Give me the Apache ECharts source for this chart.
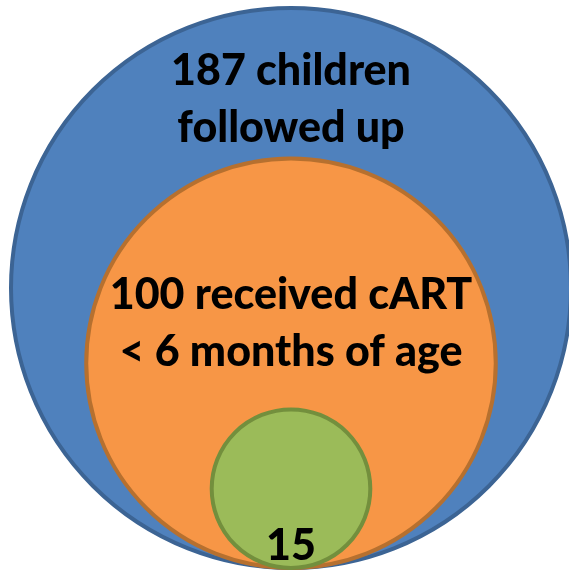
<!DOCTYPE html>
<html>
<head>
<meta charset="utf-8">
<script src="https://cdn.jsdelivr.net/npm/echarts@6/dist/echarts.min.js"></script>
<style>
  html, body { margin: 0; padding: 0; background: #fff; }
  #main { width: 569px; height: 570px; }
</style>
</head>
<body>
<div id="main"></div>
<script>
// nested groups, outer to inner
let groups = ['followed', 'cART', 'subset'];
let counts = [187, 100, 15];
let labels = ['187 children\nfollowed up', '100 received cART\n< 6 months of age', '15'];
let fills = ['#4f81bd', '#f79646', '#9bbb59'];
let strokes = ['#3c6494', '#b6702f', '#738f3d'];

// circles are area proportional and share a bottom point
let maxR = 280;
let baseX = 291, baseY = 568;
let offsets = [[0, -188], [0, -40], [0, 57]];

function radius(v) {
    return maxR * Math.sqrt(v / counts[0]);
}

let data = counts.map(function(v, i) {
    let r = radius(v);
    return {
        value: [baseX, baseY - r, v],
        symbolSize: 2 * r,
        itemStyle: {color: fills[i], borderColor: strokes[i], borderWidth: 4, opacity: 1},
        label: {formatter: labels[i], offset: offsets[i]}
    };
});

let chart = echarts.init(document.getElementById('main'));
chart.setOption({
    animation: false,
    grid: {left: 0, right: 0, top: 0, bottom: 0},
    xAxis: {type: 'value', min: 0, max: 569, show: false},
    yAxis: {type: 'value', min: 0, max: 570, inverse: true, show: false},
    series: [{
        type: 'scatter',
        symbol: 'circle',
        data: data,
        itemStyle: {opacity: 1},
        label: {
            show: true,
            position: 'inside',
            color: '#000',
            opacity: 1,
            fontFamily: 'Lato',
            fontWeight: 900,
            fontSize: 43,
            lineHeight: 57
        },
        emphasis: {disabled: true}
    }]
});
</script>
</body>
</html>
